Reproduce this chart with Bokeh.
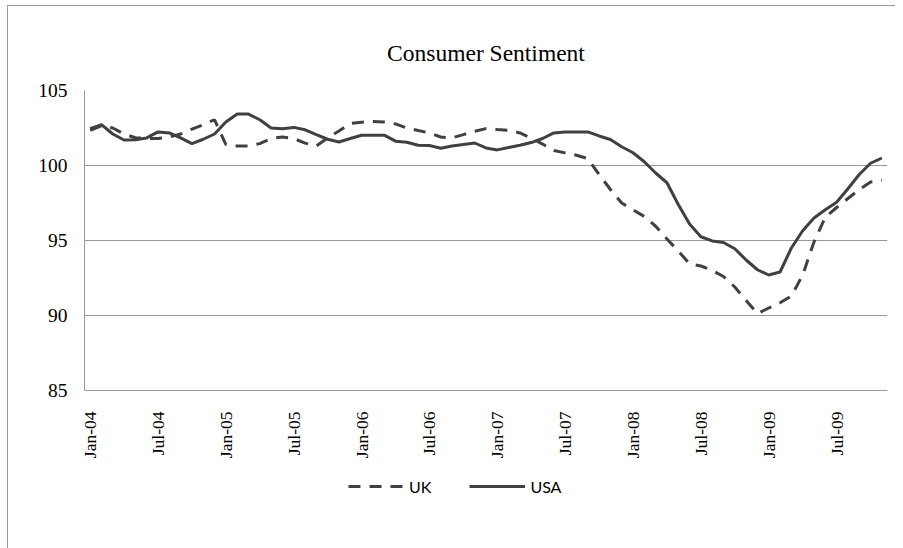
import math
from bokeh.plotting import figure
from bokeh.layouts import column
from bokeh.models import FixedTicker, Legend, LegendItem, ColumnDataSource, Range1d
from bokeh.embed import file_html
from bokeh.resources import INLINE

# ---- data ----
years = ["04", "05", "06", "07", "08", "09"]
month_names = ["Jan", "Feb", "Mar", "Apr", "May", "Jun",
               "Jul", "Aug", "Sep", "Oct", "Nov", "Dec"]
months = [f"{m}-{y}" for y in years for m in month_names][:71]  # Jan-04 .. Nov-09
tick_labels = ["Jan-04", "Jul-04", "Jan-05", "Jul-05", "Jan-06", "Jul-06",
               "Jan-07", "Jul-07", "Jan-08", "Jul-08", "Jan-09", "Jul-09"]
series_names = ["UK", "USA"]

uk = [102.35, 102.65, 102.5, 102.1, 101.85, 101.8, 101.8, 101.9, 102.1, 102.43, 102.72, 103.05,
      101.4, 101.3, 101.3, 101.46, 101.8, 101.9, 101.8, 101.49, 101.3, 101.84, 102.3, 102.8,
      102.88, 102.94, 102.9, 102.77, 102.5, 102.33, 102.17, 101.9, 101.84, 102.06, 102.28, 102.46,
      102.4, 102.35, 102.17, 101.83, 101.43, 101.0, 100.84, 100.68, 100.46, 99.4, 98.4, 97.5,
      97.05, 96.6, 95.95, 95.1, 94.3, 93.45, 93.3, 93.0, 92.6, 91.9, 91.0, 90.13,
      90.5, 90.85, 91.3, 92.7, 94.9, 96.55, 97.2, 97.8, 98.4, 98.9, 99.0]

usa = [102.45, 102.72, 102.1, 101.7, 101.72, 101.84, 102.24, 102.17, 101.84, 101.46, 101.75, 102.1,
       102.9, 103.43, 103.43, 103.05, 102.5, 102.45, 102.54, 102.38, 102.06, 101.75, 101.57, 101.8,
       102.02, 102.02, 102.02, 101.62, 101.55, 101.35, 101.33, 101.15, 101.3, 101.4, 101.5, 101.17,
       101.04, 101.2, 101.35, 101.53, 101.8, 102.17, 102.24, 102.24, 102.24, 101.97, 101.73, 101.25,
       100.85, 100.25, 99.5, 98.85, 97.4, 96.1, 95.25, 94.97, 94.87, 94.45, 93.7, 93.05,
       92.7, 92.9, 94.5, 95.65, 96.5, 97.05, 97.55, 98.45, 99.4, 100.15, 100.5]

y_ticks = [85, 90, 95, 100, 105]

src = ColumnDataSource(dict(x=list(range(len(months))), month=months, uk=uk, usa=usa))

line_color = "#404040"
dash = "12 9"

p = figure(frame_width=803, frame_height=300, output_backend="svg", toolbar_location=None,
           x_range=Range1d(-0.5, len(months) - 0.5), y_range=Range1d(85, 105),
           min_border_left=76, min_border_right=8, min_border_top=84, min_border_bottom=0,
           title="Consumer Sentiment")

p.title.align = "center"
p.title.text_font = "Liberation Serif"
p.title.text_font_size = "23.5px"
p.title.text_font_style = "normal"
p.title.text_color = "black"
p.title.standoff = 50

p.line("x", "uk", source=src, line_color=line_color, line_width=3, line_dash=dash)
p.line("x", "usa", source=src, line_color=line_color, line_width=3)

# axes
tick_pos = [months.index(t) for t in tick_labels]
p.xaxis.ticker = FixedTicker(ticks=tick_pos)
p.xaxis.major_label_overrides = {i: months[i] for i in tick_pos}
p.xaxis.major_label_orientation = math.pi / 2
p.xaxis.major_label_text_font = "Liberation Serif"
p.xaxis.major_label_text_font_size = "17.5px"
p.xaxis.major_label_text_color = "black"
p.xaxis.major_label_standoff = 15
p.xaxis.major_tick_line_color = None
p.xaxis.minor_tick_line_color = None
p.xaxis.axis_line_color = "#9a9a9a"

p.yaxis.ticker = FixedTicker(ticks=y_ticks)
p.yaxis.major_label_text_font = "Liberation Serif"
p.yaxis.major_label_text_font_size = "19.5px"
p.yaxis.major_label_text_color = "black"
p.yaxis.major_label_standoff = 11
p.yaxis.major_tick_line_color = None
p.yaxis.minor_tick_line_color = None
p.yaxis.axis_line_color = "#9a9a9a"

p.xgrid.grid_line_color = None
p.ygrid.ticker = FixedTicker(ticks=y_ticks)
p.ygrid.grid_line_color = "#9a9a9a"
p.ygrid.grid_line_width = 1
p.outline_line_color = None

# legend strip below the chart: same series, drawn outside this strip's visible range
q = figure(width=887, height=88, output_backend="svg", toolbar_location=None,
           x_range=Range1d(-0.5, len(months) - 0.5), y_range=Range1d(0, 1),
           min_border=0, outline_line_color=None)
q.axis.visible = False
q.grid.visible = False
g_uk = q.line("x", "uk", source=src, line_color=line_color, line_width=3, line_dash=dash)
g_usa = q.line("x", "usa", source=src, line_color=line_color, line_width=3)

legend = Legend(items=[LegendItem(label=series_names[0], renderers=[g_uk]),
                       LegendItem(label=series_names[1], renderers=[g_usa])],
                orientation="horizontal", location=(264, 53))
legend.label_text_font = "Lato"
legend.label_text_font_size = "16px"
legend.label_text_color = "black"
legend.glyph_width = 56
legend.spacing = 38
legend.label_standoff = 5
legend.padding = 6
legend.border_line_color = None
legend.background_fill_alpha = 0
legend.margin = 0
q.add_layout(legend)

layout = column(p, q, spacing=0,
                styles={"border-left": "1px solid #9a9a9a", "border-top": "1px solid #9a9a9a",
                        "margin-left": "7px", "margin-top": "5px"})

open("out.html", "w").write(file_html(layout, INLINE))
